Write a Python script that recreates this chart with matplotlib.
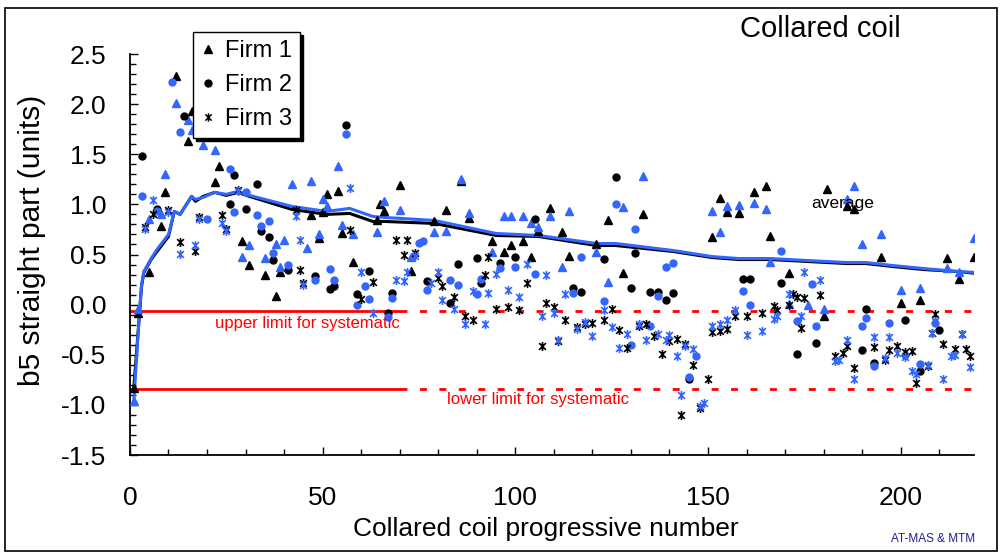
import matplotlib.pyplot as plt
from matplotlib.path import Path
from matplotlib.lines import Line2D
from matplotlib.ticker import MultipleLocator, FormatStrFormatter
import matplotlib.patches as patches

plt.rcParams['font.family'] = ['Liberation Sans', 'DejaVu Sans']

BLUE = '#3366ff'

# Firm 1 (triangles)
f1_black_x = [1, 2, 5, 8, 9, 12, 15, 16, 22, 23, 29, 31, 35, 38, 39, 47, 49, 50, 51, 54, 55, 58,
              64, 65, 66, 70, 73, 79, 82, 86, 88, 94, 97, 99, 102, 104, 106, 109, 112, 114, 121,
              124, 128, 133, 151, 153, 155, 158, 162, 165, 166, 171, 180, 181, 186, 188, 195,
              200, 205, 212, 215, 219]
f1_black_y = [-0.83, -0.08, 0.33, 0.78, 1.12, 2.28, 1.63, 1.93, 1.22, 1.38, 0.63, 0.40, 0.30, 0.09,
              0.33, 0.89, 0.66, 0.92, 1.10, 1.13, 0.71, 0.43, 0.84, 1.00, 0.93, 1.19, 0.34, 0.83,
              0.94, 1.23, 0.86, 0.63, 0.53, 0.59, 0.63, 0.48, 0.73, 0.96, 0.72, 0.49, 0.60, 0.84,
              0.32, 0.90, 0.67, 1.06, 0.92, 0.91, 1.12, 1.18, 0.68, 0.32, -0.11, 1.15, 0.98, 0.95,
              0.48, 0.02, 0.05, 0.47, 0.26, 0.48]
f1_blue_x = [1, 2, 5, 8, 9, 12, 15, 16, 19, 22, 29, 31, 35, 38, 39, 40, 42, 46, 47, 49, 50, 51,
             54, 55, 58, 64, 66, 70, 73, 79, 82, 86, 88, 94, 97, 99, 102, 104, 106, 109, 112, 114,
             121, 124, 128, 133, 151, 153, 155, 158, 162, 165, 166, 171, 176, 180, 186, 188, 190,
             195, 200, 205, 212, 215, 219]
f1_blue_y = [-0.96, -0.04, 0.85, 0.90, 1.30, 2.01, 1.84, 1.74, 1.59, 1.54, 0.48, 0.59, 0.47, 0.60,
             0.38, 0.64, 1.20, 0.57, 1.23, 0.70, 1.05, 0.98, 1.38, 0.79, 0.70, 0.72, 1.03, 0.94,
             0.48, 0.72, 0.73, 1.25, 0.91, 0.53, 0.88, 0.88, 0.88, 0.81, 0.77, 0.88, 0.38, 0.93,
             0.53, 0.23, 0.97, 1.28, 0.93, 0.72, 0.98, 0.99, 1.01, 0.95, 0.43, 0.01, 0.00, -0.04,
             1.05, 1.18, 0.60, 0.70, 0.15, 0.17, 0.37, 0.33, 0.66]

# Firm 2 (circles)
f2_black_x = [3, 7, 14, 26, 27, 30, 33, 34, 36, 37, 41, 48, 52, 53, 56, 59, 62, 67, 68, 77, 83,
              85, 90, 91, 96, 100, 105, 115, 117, 123, 126, 130, 131, 135, 137, 139, 141, 145,
              159, 161, 169, 173, 178, 190, 191, 193, 201, 205, 210]
f2_black_y = [1.48, 0.95, 1.88, 1.00, 1.29, 0.95, 1.20, 0.73, 0.67, 0.45, 0.35, 0.29, 0.16, 0.19,
              1.79, 0.11, 0.34, -0.08, 0.12, 0.24, 0.02, 0.41, 0.47, 0.22, 0.42, 0.48, 0.85, 0.17,
              0.13, 0.46, 1.27, 0.17, 0.52, 0.13, 0.13, 0.05, 0.12, -0.74, 0.26, 0.26, 0.22, -0.49,
              -0.38, -0.45, -0.04, -0.58, -0.15, -0.66, -0.25]
f2_blue_x = [3, 7, 11, 13, 20, 26, 27, 30, 33, 34, 36, 37, 41, 48, 52, 53, 56, 59, 61, 62, 67, 68,
             75, 76, 77, 83, 85, 90, 91, 96, 100, 105, 115, 117, 123, 126, 130, 131, 135, 137,
             139, 141, 145, 147, 159, 161, 169, 173, 177, 178, 190, 191, 193, 197, 201, 205, 209]
f2_blue_y = [1.08, 0.93, 2.22, 1.72, 0.85, 1.35, 0.92, 1.12, 0.89, 0.78, 0.83, 0.52, 0.40, 0.25,
             0.36, 0.25, 1.70, 0.00, 0.19, 0.06, -0.12, 0.07, 0.61, 0.63, 0.15, 0.25, 0.20, 0.11,
             0.26, 0.37, 0.38, 0.31, 0.12, 0.48, 0.04, 1.00, -0.40, 0.75, -0.21, 0.09, 0.38, 0.42,
             -0.72, -0.51, 0.14, 0.00, 0.54, -0.16, 0.21, -0.21, -0.21, -0.13, -0.61, -0.18, -0.50,
             -0.59, -0.18]

# Firm 3 (asterisks)
f3_black_x = [4, 6, 10, 13, 17, 18, 24, 25, 28, 43, 44, 45, 57, 60, 63, 69, 71, 72, 74, 80, 81,
              84, 87, 89, 92, 93, 95, 98, 101, 103, 107, 108, 110, 111, 113, 116, 118, 120, 123,
              125, 127, 129, 132, 134, 136, 138, 140, 142, 143, 144, 146, 148, 150, 151, 153, 155,
              157, 160, 164, 167, 168, 171, 172, 173, 174, 175, 179, 183, 185, 186, 188, 193, 196,
              197, 199, 201, 203, 204, 207, 208, 209, 211, 214, 216, 217, 218]
f3_black_y = [0.77, 0.90, 0.94, 0.62, 0.54, 0.87, 0.89, 0.75, 1.14, 0.94, 0.35, 0.22, 0.74, 0.06,
              0.23, 0.64, 0.50, 0.64, 0.52, 0.27, 0.19, 0.08, -0.11, -0.15, 0.30, 0.48, -0.04,
              -0.02, -0.05, 0.22, -0.41, 0.02, -0.02, -0.36, -0.15, -0.22, -0.19, -0.18, -0.15,
              -0.04, -0.25, -0.43, -0.21, -0.19, -0.31, -0.49, -0.36, -0.34, -1.10, -0.39, -0.60,
              -1.03, -0.74, -0.27, -0.26, -0.24, -0.11, -0.11, -0.08, -0.01, -0.05, 0.00, 0.11,
              0.08, -0.23, 0.07, 0.10, -0.51, -0.48, -0.41, -0.63, -0.42, -0.55, -0.45, -0.41,
              -0.47, -0.46, -0.78, -0.61, -0.28, -0.09, -0.39, -0.44, -0.29, -0.44, -0.51]
f3_blue_x = [4, 6, 10, 13, 17, 18, 24, 25, 28, 43, 44, 45, 57, 60, 63, 69, 71, 72, 74, 78, 80, 81,
             84, 87, 89, 92, 93, 95, 98, 101, 103, 107, 108, 110, 111, 113, 116, 118, 120, 123,
             125, 127, 129, 132, 134, 137, 139, 140, 142, 143, 144, 146, 148, 149, 151, 153, 155,
             157, 160, 164, 167, 168, 171, 174, 175, 179, 183, 184, 186, 188, 193, 196, 197, 199,
             201, 203, 204, 207, 208, 209, 211, 213, 214, 216, 218]
f3_blue_y = [0.75, 1.04, 0.92, 0.51, 0.59, 0.85, 0.81, 0.73, 1.13, 0.88, 0.64, 0.20, 1.16, 0.33,
             -0.08, 0.25, 0.24, 0.33, 0.49, 0.22, 0.33, 0.05, -0.04, -0.19, 0.14, -0.19, 0.12,
             0.31, 0.15, 0.08, 0.41, -0.11, 0.30, -0.08, -0.35, 0.11, -0.24, -0.17, -0.31, -0.05,
             -0.22, -0.43, -0.29, -0.19, -0.35, -0.29, -0.35, -0.30, -0.51, -0.90, -0.41, -0.44,
             -1.01, -0.98, -0.21, -0.19, -0.15, -0.05, -0.30, -0.26, -0.14, -0.11, 0.11, -0.11,
             0.33, 0.25, -0.56, -0.55, -0.35, -0.74, -0.32, -0.53, -0.32, -0.48, -0.52, -0.66,
             -0.69, -0.60, -0.28, -0.16, -0.74, -0.51, -0.50, -0.29, -0.62]

# running averages
avg_x = [1, 2.5, 3, 3.6, 5.5, 7, 10, 11.5, 13, 16, 17, 19, 22, 25, 28, 31, 42, 51, 57, 63, 66,
         79, 95, 106, 121, 126, 141, 151, 158, 166, 176, 186, 191, 198, 206, 215, 220]
avg_black = [-0.83, -0.08, 0.18, 0.32, 0.45, 0.53, 0.68, 0.93, 0.90, 1.08, 1.03, 1.08, 1.12, 1.09,
             1.12, 1.08, 0.95, 0.90, 0.91, 0.83, 0.83, 0.81, 0.69, 0.68, 0.59, 0.59, 0.53, 0.47,
             0.45, 0.45, 0.43, 0.41, 0.41, 0.38, 0.35, 0.33, 0.31]
avg_blue = [-0.96, -0.06, 0.20, 0.33, 0.46, 0.55, 0.70, 0.93, 0.90, 1.08, 1.05, 1.07, 1.12, 1.10,
            1.13, 1.09, 0.98, 0.93, 0.96, 0.88, 0.87, 0.84, 0.71, 0.69, 0.61, 0.61, 0.54, 0.48,
            0.46, 0.46, 0.44, 0.42, 0.42, 0.39, 0.36, 0.33, 0.32]

upper_limit = -0.06
lower_limit = -0.84
solid_end = 70
x_max = 219

# asterisk marker: vertical bar plus an X
star = Path([(0, -1), (0, 1), (-0.75, -0.75), (0.75, 0.75), (-0.75, 0.75), (0.75, -0.75)],
            [Path.MOVETO, Path.LINETO] * 3)

fig = plt.figure(figsize=(10.02, 5.57), dpi=100)
ax = fig.add_axes([0.1297, 0.1831, 0.8423, 0.7199])

ax.plot(avg_x, avg_black, color='black', lw=2.2, zorder=2)
ax.plot(avg_x, avg_blue, color=BLUE, lw=2.2, zorder=2)

ax.plot([0, solid_end], [upper_limit] * 2, color='red', lw=2, zorder=1)
ax.plot([solid_end, x_max], [upper_limit] * 2, color='red', lw=2, ls=(0, (2.5, 4.5)), zorder=1)
ax.plot([0, solid_end], [lower_limit] * 2, color='red', lw=2, zorder=1)
ax.plot([solid_end, x_max], [lower_limit] * 2, color='red', lw=2, ls=(0, (2.5, 4.5)), zorder=1)

ax.plot(f1_black_x, f1_black_y, '^', color='black', ms=5.5, ls='none', zorder=3)
ax.plot(f1_blue_x, f1_blue_y, '^', color=BLUE, ms=5.5, ls='none', zorder=3)
ax.plot(f2_black_x, f2_black_y, 'o', color='black', ms=5, ls='none', zorder=3)
ax.plot(f2_blue_x, f2_blue_y, 'o', color=BLUE, ms=5, ls='none', zorder=3)
ax.plot(f3_black_x, f3_black_y, marker=star, color='black', mew=1.2, ms=6.5, ls='none', zorder=3)
ax.plot(f3_blue_x, f3_blue_y, marker=star, color=BLUE, mew=1.2, ms=6.5, ls='none', zorder=3)

ax.text(46, -0.19, 'upper limit for systematic', color='red', fontsize=12, ha='center', va='center')
ax.text(106, -0.95, 'lower limit for systematic', color='red', fontsize=12, ha='center', va='center')
ax.text(185, 1.01, 'average', color='black', fontsize=12.5, ha='center', va='center')

ax.set_xlim(0, x_max)
ax.set_ylim(-1.5, 2.5)
ax.xaxis.set_major_locator(MultipleLocator(50))
ax.xaxis.set_minor_locator(MultipleLocator(10))
ax.yaxis.set_major_locator(MultipleLocator(0.5))
ax.yaxis.set_minor_locator(MultipleLocator(0.1))
ax.yaxis.set_major_formatter(FormatStrFormatter('%.1f'))
ax.tick_params(which='major', direction='in', length=6, width=1, labelsize=19)
ax.tick_params(which='minor', direction='in', length=4, width=1)
ax.tick_params(axis='y', which='major', pad=17)
ax.tick_params(axis='x', which='major', pad=22)
for s in ['top', 'right']:
    ax.spines[s].set_visible(False)
for s in ['left', 'bottom']:
    ax.spines[s].set_linewidth(1.3)

ax.set_xlabel('Collared coil progressive number', fontsize=19)
ax.xaxis.set_label_coords(0.493, -0.155)
ax.set_ylabel('b5 straight part (units)', fontsize=21.5)
ax.yaxis.set_label_coords(-0.1, 0.536)

fig.text(0.819, 0.948, 'Collared coil', fontsize=21, ha='center', va='center')
fig.text(0.973, 0.032, 'AT-MAS & MTM', fontsize=8.5, color='#1f1f99', ha='right', va='center')

handles = [Line2D([], [], marker='^', color='black', ls='none', ms=6),
           Line2D([], [], marker='o', color='black', ls='none', ms=5),
           Line2D([], [], marker=star, color='black', ls='none', ms=6, mew=1.1)]
leg = fig.legend(handles, ['Firm 1', 'Firm 2', 'Firm 3'], loc='upper left',
                 bbox_to_anchor=(0.1926, 0.9425), fontsize=17, frameon=True, fancybox=False,
                 shadow={'color': 'black', 'alpha': 1}, handlelength=0.6, handletextpad=0.4,
                 borderpad=0.35, labelspacing=0.5, borderaxespad=0)
leg.get_frame().set_edgecolor('black')
leg.get_frame().set_linewidth(1)

fig.patches.append(patches.Rectangle((0.005, 0.011), 0.99, 0.975, transform=fig.transFigure,
                                     fill=False, edgecolor='black', lw=1.2))

fig.savefig('out.png', dpi=100)
